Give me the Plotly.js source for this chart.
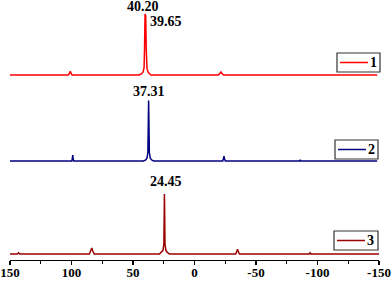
<!DOCTYPE html>
<html>
<head>
<meta charset="utf-8">
<script src="https://cdn.plot.ly/plotly-3.0.1.min.js"></script>
<style>html,body{margin:0;padding:0;background:#fff;}#chart{width:392px;height:281px;}</style>
</head>
<body>
<div id="chart"></div>
<script>
// Spectrum 1 (red), normalised intensity
const x1 = [150, 102.5, 101.6, 101, 100.4, 99.5, 45, 43, 41.8, 41, 40.6, 40.2, 39.65, 39.2, 38.6, 37.5, 35.5, -19.5, -20.8, -21.5, -22.2, -23.5, -148.5];
const y1 = [0, 0, 0.03, 0.06, 0.03, 0, 0, 0.02, 0.05, 0.12, 0.45, 1.0, 0.97, 0.4, 0.1, 0.04, 0, 0, 0.03, 0.05, 0.03, 0, 0];
// Spectrum 2 (navy)
const x2 = [150, 99.8, 99.3, 99, 98.7, 98.2, 41.5, 39.6, 38.6, 37.9, 37.31, 36.7, 36, 35, 33.2, -23, -23.7, -24, -24.3, -25, -85.5, -86, -86.5, -148.5];
const y2 = [0, 0, 0.04, 0.1, 0.04, 0, 0, 0.02, 0.05, 0.14, 1.0, 0.14, 0.05, 0.02, 0, 0, 0.04, 0.08, 0.04, 0, 0, 0.02, 0, 0];
// Spectrum 3 (wine)
const x3 = [150, 144, 143, 142, 85.5, 84.3, 83.5, 82.7, 81.5, 28.5, 26.6, 25.6, 24.9, 24.45, 24, 23.3, 22.3, 20.4, -33.5, -34.4, -35, -35.6, -36.5, -93.3, -94, -94.7, -150];
const y3 = [0, 0, 0.02, 0, 0, 0.05, 0.1, 0.05, 0, 0, 0.03, 0.06, 0.17, 1.0, 0.17, 0.06, 0.03, 0, 0, 0.04, 0.08, 0.04, 0, 0, 0.02, 0, 0];

const names = ['1', '2', '3'];
const colors = ['#ff0000', '#000080', '#9a0000'];
const peakLabels = ['40.20', '39.65', '37.31', '24.45'];
const peakPos = [40.20, 39.65, 37.31, 24.45];
const xTickVals = [150, 100, 50, 0, -50, -100, -150];
const xTickText = ['150', '100', '50', '0', '-50', '-100', '-150'];

const serif = 'Liberation Serif, Times New Roman, serif';
const b = (s) => '<b>' + s + '</b>';

const traces = [
  {x: x1, y: y1, name: names[0], yaxis: 'y3'},
  {x: x2, y: y2, name: names[1], yaxis: 'y2'},
  {x: x3, y: y3, name: names[2], yaxis: 'y'}
].map((t, i) => Object.assign(t, {
  type: 'scatter', mode: 'lines',
  line: {color: colors[i], width: 1.5},
  showlegend: false, hoverinfo: 'skip'
}));

const hiddenY = (dom) => ({domain: dom, range: [-0.1, 1.1], visible: false, fixedrange: true});

// plot area geometry (pixels) used for placing the boxed keys
const M = {l: 10, r: 13, t: 2, b: 20};
const PW = 392 - M.l - M.r, PH = 281 - M.t - M.b;
const px = (x) => (x - M.l) / PW;
const py = (y) => (281 - M.b - y) / PH;

// key boxes: [left, top, right, bottom] in pixels
const keyBoxes = [[337, 53, 380, 72], [335, 140, 378, 159], [334, 231, 378, 250]];
const shapes = [];
const keyAnns = [];
keyBoxes.forEach((k, i) => {
  const [l, t, r, bt] = k, cy = (t + bt) / 2;
  shapes.push({type: 'rect', xref: 'paper', yref: 'paper', x0: px(l), x1: px(r), y0: py(bt), y1: py(t),
    line: {color: '#333333', width: 1.2}, fillcolor: '#ffffff', layer: 'above'});
  shapes.push({type: 'line', xref: 'paper', yref: 'paper', x0: px(l + 3), x1: px(l + 31), y0: py(cy), y1: py(cy),
    line: {color: colors[i], width: 1.5}, layer: 'above'});
  keyAnns.push({text: b(names[i]), xref: 'paper', yref: 'paper', x: px(l + 36), y: py(cy),
    xanchor: 'center', yanchor: 'middle', showarrow: false,
    font: {family: serif, size: 14, color: '#000'}});
});

const annY = ['y3', 'y3', 'y2', 'y'];
const annShiftY = [7.5, -7, 8.5, 12];
const annShiftX = [-2, 2, 0, 1.5];
const annAnchor = ['center', 'left', 'center', 'center'];

const layout = {
  width: 392, height: 281,
  margin: M,
  paper_bgcolor: '#fff', plot_bgcolor: '#fff',
  font: {family: serif, size: 13, color: '#000'},
  xaxis: {
    range: [150, -150], tickmode: 'array', tickvals: xTickVals, ticktext: xTickText.map(b),
    ticks: 'outside', ticklen: 4, tickwidth: 1.2, tickcolor: '#000',
    ticklabelstandoff: -4,
    showline: true, linecolor: '#000', linewidth: 1.2,
    showgrid: false, zeroline: false,
    tickfont: {family: serif, size: 13, color: '#000'},
    minor: {tickmode: 'linear', tick0: 25, dtick: 50, ticks: 'outside', ticklen: 3, tickwidth: 1, tickcolor: '#000'},
    anchor: 'y', fixedrange: true
  },
  yaxis: hiddenY([0.0039, 0.2819]),
  yaxis2: hiddenY([0.3627, 0.6431]),
  yaxis3: hiddenY([0.6946, 0.9772]),
  shapes: shapes,
  annotations: peakLabels.map((txt, i) => ({
    text: b(txt), x: peakPos[i], y: 1, xref: 'x', yref: annY[i],
    xanchor: annAnchor[i], yanchor: 'middle', showarrow: false,
    xshift: annShiftX[i], yshift: annShiftY[i],
    font: {family: serif, size: 14, color: '#000'}
  })).concat(keyAnns),
  showlegend: false
};

Plotly.newPlot('chart', traces, layout, {staticPlot: true, displayModeBar: false});
</script>
</body>
</html>
